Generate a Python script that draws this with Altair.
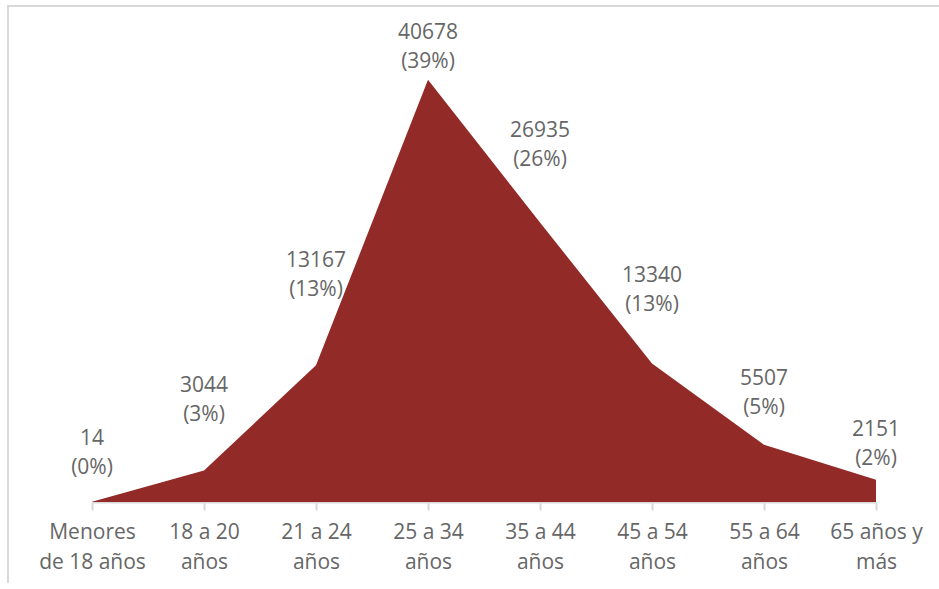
import altair as alt
import pandas as pd

# Age groups and number of people in each
categories = [
    "Menores\nde 18 años",
    "18 a 20\naños",
    "21 a 24\naños",
    "25 a 34\naños",
    "35 a 44\naños",
    "45 a 54\naños",
    "55 a 64\naños",
    "65 años y\nmás",
]
values = [14, 3044, 13167, 40678, 26935, 13340, 5507, 2151]

# How far (px) the centre of each two-line label sits above its point
label_lift = [48, 70, 90, 32, 77, 73, 51, 35]

W, H = 784, 467
Y_MAX = 45000
LINE_H = 29
units_per_px = Y_MAX / H

total = sum(values)
df = pd.DataFrame({"grupo": categories, "valor": values})
df["label"] = [f"{v}\n({round(100 * v / total)}%)" for v in values]
# the first line is the one anchored, so lift it by half a line more
df["label_y"] = [v + (l + LINE_H / 2) * units_per_px for v, l in zip(values, label_lift)]

FONT = "Open Sans"
RED = "#922B27"
GREY = "#666666"
FRAME = "#D9D9D9"

x_enc = alt.X(
    "grupo:N",
    sort=categories,
    scale=alt.Scale(type="point", padding=0),
    axis=alt.Axis(
        title=None,
        labelAngle=0,
        labelExpr="split(datum.label, '\\n')",
        labelFont=FONT,
        labelFontSize=21,
        labelColor=GREY,
        labelLineHeight=30,
        labelPadding=11,
        labelBaseline="top",
        domainColor=FRAME,
        domainWidth=2,
        tickColor=FRAME,
        tickWidth=2,
        tickSize=8,
        grid=False,
    ),
)
y_scale = alt.Scale(domain=[0, Y_MAX])

area = alt.Chart(df).mark_area(color=RED, interpolate="linear", opacity=1).encode(
    x=x_enc,
    y=alt.Y("valor:Q", scale=y_scale, axis=None),
)

labels = alt.Chart(df).mark_text(
    font=FONT,
    fontSize=21,
    color=GREY,
    lineBreak="\n",
    lineHeight=LINE_H,
    baseline="middle",
    align="center",
).encode(
    x=alt.X("grupo:N", sort=categories),
    y=alt.Y("label_y:Q", scale=y_scale),
    text="label:N",
)

# Light grey frame along the top and left edges of the figure
frame_top = alt.Chart(df).mark_rule(color=FRAME, strokeWidth=2).encode(
    x=alt.value(-84), x2=alt.value(W + 80), y=alt.value(-29)
)
frame_left = alt.Chart(df).mark_rule(color=FRAME, strokeWidth=2).encode(
    x=alt.value(-84), y=alt.value(-30), y2=alt.value(548)
)

chart = (
    alt.layer(frame_top, frame_left, area, labels)
    .properties(
        width=W,
        height=H,
        autosize=alt.AutoSizeParams(type="none"),
        padding={"left": 92, "top": 35, "right": 63, "bottom": 87},
        background="white",
    )
    .configure_view(stroke=None)
)

chart.save("out.html", embed_options={"renderer": "svg", "actions": False})
